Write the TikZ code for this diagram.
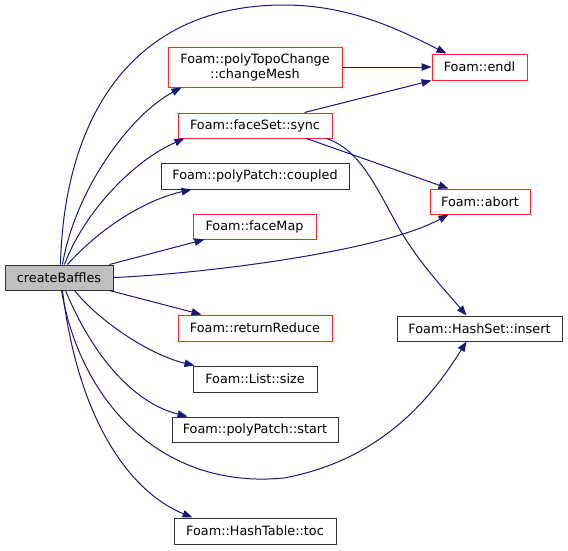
\documentclass[tikz,border=0pt]{standalone}
\usepackage{fontspec}
\setmainfont{DejaVu Sans}
\usetikzlibrary{arrows.meta}
\definecolor{edgeblue}{RGB}{25,25,112}
\definecolor{redborder}{RGB}{255,40,40}
\definecolor{greyborder}{RGB}{50,50,50}
\begin{document}
\begin{tikzpicture}[x=1pt,y=-1pt,
  box/.style={draw=greyborder,line width=1pt,inner sep=0pt,align=center,font=\fontsize{12.8}{15}\selectfont},
  redbox/.style={box,draw=redborder},
  rootbox/.style={box,fill=black!25},
  edge/.style={draw=edgeblue,line width=1pt,-{Triangle[length=10pt,width=7.5pt]},fill=none}]
\useasboundingbox (0,0) rectangle (568,550);
\node[rootbox,minimum width=108pt,minimum height=25pt] (cb) at (59,277.5) {createBaffles};
\node[redbox,minimum width=174pt,minimum height=40pt] (cm) at (255,67) {Foam::polyTopoChange\\::changeMesh};
\node[redbox,minimum width=154pt,minimum height=25pt] (sync) at (255,125.5) {Foam::faceSet::sync};
\node[box,minimum width=188pt,minimum height=26pt] (coupled) at (255,176) {Foam::polyPatch::coupled};
\node[redbox,minimum width=123pt,minimum height=25pt] (faceMap) at (254.5,226.5) {Foam::faceMap};
\node[redbox,minimum width=154pt,minimum height=26pt] (rr) at (255,328) {Foam::returnReduce};
\node[box,minimum width=124pt,minimum height=26pt] (size) at (255,379) {Foam::List::size};
\node[box,minimum width=166pt,minimum height=25pt] (start) at (255,429.5) {Foam::polyPatch::start};
\node[box,minimum width=162pt,minimum height=26pt] (toc) at (255,531) {Foam::HashTable::toc};
\node[redbox,minimum width=95pt,minimum height=26pt] (endl) at (479.5,67) {Foam::endl};
\node[redbox,minimum width=100pt,minimum height=25pt] (abort) at (480,201.5) {Foam::abort};
\node[box,minimum width=165pt,minimum height=25pt] (insert) at (479.5,328.5) {Foam::HashSet::insert};

\path[edge] ([xshift=56pt]cb.north west) .. controls (64,120) and (130,5) .. (284,5)
  .. controls (350,5) and (400,30) .. ([xshift=15pt]endl.north west);
\path[edge] ([xshift=58pt]cb.north west) .. controls (75,190) and (130,115) .. ([xshift=14pt]cm.south west);
\path[edge] ([xshift=60pt]cb.north west) .. controls (85,210) and (135,160) .. ([xshift=7pt]sync.south west);
\path[edge] ([xshift=63pt]cb.north west) .. controls (100,228) and (145,200) .. ([xshift=31pt]coupled.south west);
\path[edge] ([xshift=105pt]cb.north west) -- ([xshift=12pt]faceMap.south west);
\path[edge] (cb.east) .. controls (200,274) and (380,252) .. ([xshift=19pt]abort.south west);
\path[edge] ([xshift=105pt]cb.south west) -- ([xshift=24pt]rr.north west);
\path[edge] ([xshift=70pt]cb.south west) .. controls (100,322) and (150,355) .. ([xshift=2pt]size.north west);
\path[edge] ([xshift=61pt]cb.south west) .. controls (90,350) and (130,402) .. ([xshift=16pt]start.north west);
\path[edge] ([xshift=57pt]cb.south west) .. controls (80,400) and (160,490) .. (284,478)
  .. controls (380,460) and (430,400) .. ([xshift=70pt]insert.south west);
\path[edge] ([xshift=58pt]cb.south west) .. controls (78,420) and (130,492) .. ([xshift=19pt]toc.north west);
\path[edge] (cm.east) -- (endl.west);
\path[edge] ([xshift=127pt]sync.north west) -- (endl.south west);
\path[edge] ([xshift=129pt]sync.south west) -- ([xshift=19pt]abort.north west);
\path[edge] ([xshift=149pt]sync.south west) .. controls (360,150) and (375,185) .. (400,230)
  .. controls (420,264) and (445,290) .. ([xshift=70pt]insert.north west);
\end{tikzpicture}
\end{document}
